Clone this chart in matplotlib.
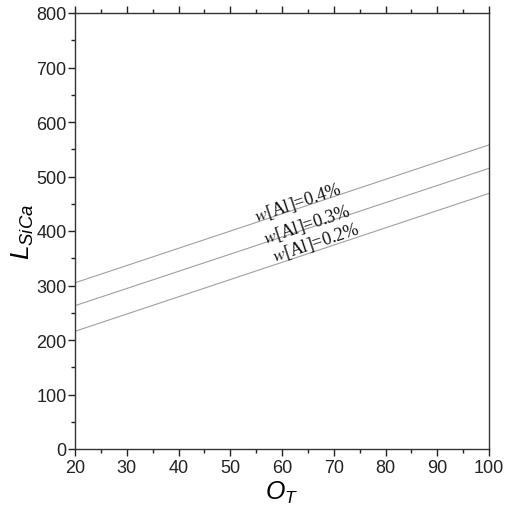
import matplotlib
matplotlib.use("Agg")
import matplotlib.pyplot as plt
from matplotlib.ticker import MultipleLocator

# data
o_t = [20, 100]
l_04 = [305, 558]
l_03 = [263, 515]
l_02 = [216, 469]
labels = ["[Al]=0.4%", "[Al]=0.3%", "[Al]=0.2%"]

plt.rcParams["font.family"] = ["Liberation Sans", "DejaVu Sans"]
plt.rcParams["mathtext.fontset"] = "custom"
plt.rcParams["mathtext.it"] = "Liberation Sans:italic"
plt.rcParams["mathtext.rm"] = "Liberation Sans"

fig = plt.figure(figsize=(5.08, 5.10), dpi=100)
ax = fig.add_axes([75 / 508, 60 / 510, 414 / 508, 436 / 510])

# three lines
for ys in (l_04, l_03, l_02):
    ax.plot(o_t, ys, color="#a0a0a0", lw=0.8)

ax.set_xlim(20, 100)
ax.set_ylim(0, 800)

ax.xaxis.set_major_locator(MultipleLocator(10))
ax.xaxis.set_minor_locator(MultipleLocator(5))
ax.yaxis.set_major_locator(MultipleLocator(100))
ax.yaxis.set_minor_locator(MultipleLocator(50))

ax.tick_params(axis="both", which="both", direction="out", labelsize=13,
               colors="#222222", top=True, right=False)
ax.tick_params(which="major", length=5, width=1)
ax.tick_params(which="minor", length=3, width=1)
ax.tick_params(axis="x", pad=2)
ax.tick_params(axis="y", pad=1)

for s in ax.spines.values():
    s.set_color("#333333")
    s.set_linewidth(1.0)

ax.set_xlabel(r"$O_T$", fontsize=18, labelpad=2)
ax.set_ylabel(r"$L_{SiCa}$", fontsize=19, labelpad=0)

# labels on the lines
slope_angle = 18.4
for txt, x, y in zip(labels, [63.1, 64.8, 66.6], [453, 413, 380]):
    ax.text(x, y, "$w$" + txt, fontsize=13, family="Liberation Serif",
            rotation=slope_angle, rotation_mode="anchor", ha="center",
            va="center", color="#111111",
            math_fontfamily="stix")

plt.savefig("out.png", dpi=100)
